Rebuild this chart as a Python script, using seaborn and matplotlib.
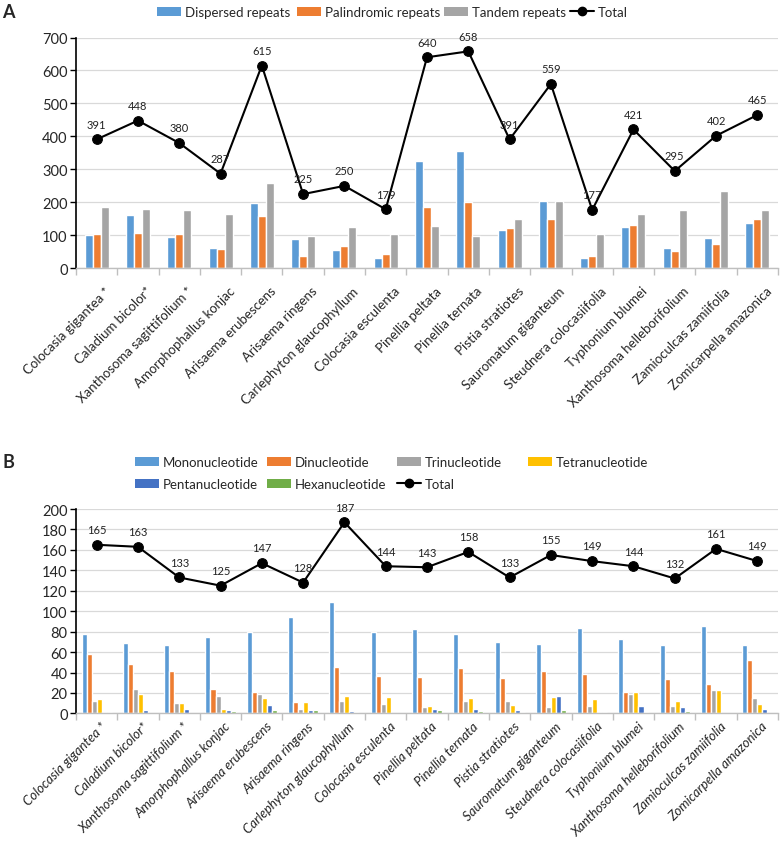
import numpy as np
import pandas as pd
import matplotlib
matplotlib.use("Agg")
import matplotlib.pyplot as plt
import matplotlib.transforms as mtransforms
from matplotlib.patches import Patch
from matplotlib.lines import Line2D
import seaborn as sns

species = ["Colocasia gigantea *", "Caladium bicolor*", "Xanthosoma sagittifolium *",
           "Amorphophallus konjac", "Arisaema erubescens", "Arisaema ringens",
           "Carlephyton glaucophyllum", "Colocasia esculenta", "Pinellia peltata",
           "Pinellia ternata", "Pistia stratiotes", "Sauromatum giganteum",
           "Steudnera colocasiifolia", "Typhonium blumei", "Xanthosoma helleborifolium",
           "Zamioculcas zamiifolia", "Zomicarpella amazonica"]

# Panel A
dispersed = [100, 161, 96, 62, 197, 88, 55, 30, 324, 357, 117, 204, 32, 124, 63, 92, 138]
palindromic = [103, 106, 105, 60, 159, 37, 69, 43, 185, 201, 123, 151, 38, 132, 53, 75, 150]
tandem = [187, 179, 178, 164, 258, 98, 125, 103, 129, 99, 151, 205, 104, 165, 178, 234, 177]
total_a = [391, 448, 380, 287, 615, 225, 250, 179, 640, 658, 391, 559, 177, 421, 295, 402, 465]

# Panel B
mono = [78, 69, 67, 75, 80, 94, 109, 80, 83, 78, 70, 68, 84, 73, 67, 86, 67]
di = [58, 48, 41, 24, 21, 11, 45, 37, 36, 44, 35, 41, 39, 21, 34, 29, 52]
tri = [12.5, 24, 10, 17, 19, 4.5, 12.5, 9.5, 6.5, 12.5, 12.5, 6.5, 7.5, 18.5, 7.5, 22.5, 15]
tetra = [14, 19, 10.5, 4, 15, 11, 17, 16, 7.5, 15, 8.5, 16.5, 14, 20.5, 12.5, 22.5, 9.5]
penta = [1, 3, 4, 3, 8.5, 3, 2, 0.5, 4.5, 4.5, 3.5, 17.5, 1.3, 7.5, 6.5, 0, 4.5]
hexa = [1, 0, 0, 2, 3, 3.5, 1, 0, 3.5, 2.5, 1.5, 3.3, 1.3, 1.3, 2.6, 0, 0]
total_b = [165, 163, 133, 125, 147, 128, 187, 144, 143, 158, 133, 155, 149, 144, 132, 161, 149]

types_a = ["Dispersed repeats", "Palindromic repeats", "Tandem repeats"]
types_b = ["Mononucleotide", "Dinucleotide", "Trinucleotide", "Tetranucleotide",
           "Pentanucleotide", "Hexanucleotide"]
colors_a = ["#5B9BD5", "#ED7D31", "#A5A5A5"]
colors_b = ["#5B9BD5", "#ED7D31", "#A5A5A5", "#FFC000", "#4472C4", "#70AD47"]

dfA = pd.DataFrame({"Species": [s for s in species for _ in types_a],
                    "Type": types_a * len(species),
                    "Count": [v for t in zip(dispersed, palindromic, tandem) for v in t]})
dfB = pd.DataFrame({"Species": [s for s in species for _ in types_b],
                    "Type": types_b * len(species),
                    "Count": [v for t in zip(mono, di, tri, tetra, penta, hexa) for v in t]})

sns.set_style("white")
plt.rcParams["font.family"] = ["Lato", "DejaVu Sans"]

W, H = 780, 853
fig = plt.figure(figsize=(W / 100, H / 100), dpi=100)

def px_axes(left, right, top, bottom):
    return fig.add_axes([left / W, 1 - bottom / H, (right - left) / W, (bottom - top) / H])

axA = px_axes(76, 778, 38.5, 269.3)
axB = px_axes(76, 778, 510, 714.4)

def style_axes(ax, ymax, ystep, italic, dx, dy):
    ax.set_ylim(0, ymax)
    ax.set_xlim(-0.5, len(species) - 0.5)
    ax.set_yticks(np.arange(0, ymax + 1, ystep))
    ax.yaxis.grid(True, color="#D9D9D9", linewidth=0.9)
    ax.set_axisbelow(True)
    for s in ["top", "right"]:
        ax.spines[s].set_visible(False)
    ax.spines["left"].set_color("black")
    ax.spines["left"].set_linewidth(1.2)
    ax.spines["bottom"].set_color("#BFBFBF")
    ax.spines["bottom"].set_linewidth(1.0)
    ax.tick_params(axis="y", direction="out", length=4, width=1, color="black",
                   labelsize=10.5, pad=2, left=True)
    ax.set_xticks(np.arange(len(species)))
    ax.set_xticks(np.arange(-0.5, len(species), 1.0), minor=True)
    ax.tick_params(axis="x", which="major", length=0, pad=3)
    ax.tick_params(axis="x", which="minor", length=5, width=1, color="#BFBFBF",
                   direction="out", bottom=True)
    ax.set_xticklabels(species, rotation=45, ha="right", va="top", rotation_mode="anchor",
                       fontsize=9.5, fontstyle="italic" if italic else "normal")
    off = mtransforms.ScaledTranslation(dx / 100, -dy / 100, fig.dpi_scale_trans)
    for lab in ax.get_xticklabels():
        lab.set_transform(lab.get_transform() + off)
    ax.set_xlabel("")
    ax.set_ylabel("")

def add_total(ax, totals):
    sns.lineplot(x=np.arange(len(species)), y=totals, color="black", marker="o",
                 markersize=7, linewidth=1.5, markeredgecolor="black", ax=ax,
                 legend=False)
    for i, v in enumerate(totals):
        ax.annotate(str(v), (i, v), xytext=(0, 7), textcoords="offset points",
                    ha="center", va="bottom", fontsize=8, color="#222222")

sns.barplot(data=dfA, x="Species", y="Count", hue="Type", order=species,
            hue_order=types_a, palette=colors_a, width=0.58, saturation=1,
            ax=axA, legend=False)
add_total(axA, total_a)
style_axes(axA, 700, 100, False, 8, 12)

sns.barplot(data=dfB, x="Species", y="Count", hue="Type", order=species,
            hue_order=types_b, palette=colors_b, width=0.73, saturation=1,
            ax=axB, legend=False)
add_total(axB, total_b)
style_axes(axB, 200, 20, True, 4, 2)

def handle_patch(c):
    return Patch(facecolor=c, edgecolor="none")

total_handle = Line2D([0], [0], color="black", marker="o", markersize=6, linewidth=1.5)

def legend_entry(handle, label, x, y):
    leg = fig.legend([handle], [label], loc="center left",
                     bbox_to_anchor=(x / W, 1 - y / H), frameon=False,
                     fontsize=9.5, handlelength=1.8, handleheight=0.7,
                     handletextpad=0.3, borderaxespad=0, borderpad=0)
    return leg

# Panel A legend
for h, l, x in zip([handle_patch(c) for c in colors_a] + [total_handle],
                   types_a + ["Total"], [157, 297, 444, 570]):
    legend_entry(h, l, x, 13)

# Panel B legend
b_handles = [handle_patch(c) for c in colors_b] + [total_handle]
b_labels = types_b + ["Total"]
b_pos = [(135, 463), (267, 463), (397, 463), (528, 463),
         (135, 485), (267, 485), (397, 485)]
for h, l, (x, y) in zip(b_handles, b_labels, b_pos):
    legend_entry(h, l, x, y)

fig.text(2 / W, 1 - 12 / H, "A", fontsize=13, fontweight="bold", va="center", ha="left")
fig.text(2 / W, 1 - 463 / H, "B", fontsize=13, fontweight="bold", va="center", ha="left")

fig.savefig("out.png", dpi=100)
